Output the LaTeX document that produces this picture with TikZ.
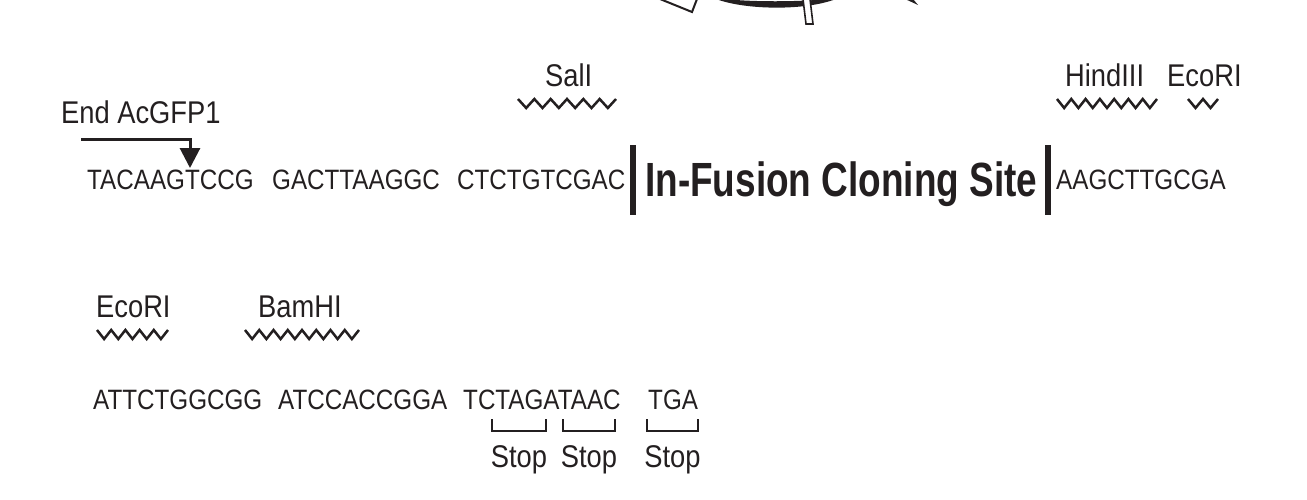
\documentclass[tikz,border=0pt]{standalone}
\usepackage{fontspec}
\usetikzlibrary{arrows.meta}
\newfontfamily\seqfont[FakeStretch=0.865]{Liberation Sans}
\newfontfamily\labfont[FakeStretch=0.87]{Liberation Sans}
\newfontfamily\boldcond[FakeStretch=0.77]{Liberation Sans}
\definecolor{ink}{RGB}{35,31,32}
\newcommand{\zzline}[4]{\draw[wave] (#1,#3) \foreach \i in {1,...,#4} { -- ({#1+\i*(#2-#1)/#4},{#3+9*mod(\i,2)}) };}
\tikzset{
  seq/.style={font=\seqfont\fontsize{28}{32}\selectfont, anchor=base west, inner sep=0pt, text=ink},
  lab/.style={font=\labfont\fontsize{31.4}{34}\selectfont, anchor=base west, inner sep=0pt, text=ink},
  stoplab/.style={font=\labfont\fontsize{31.4}{34}\selectfont, anchor=base, inner sep=0pt, text=ink},
  big/.style={font=\boldcond\bfseries\fontsize{48}{52}\selectfont, anchor=base west, inner sep=0pt, text=ink},
  wave/.style={draw=ink, line width=2.5pt, line join=miter},
  bracket/.style={draw=ink, line width=2.8pt, line cap=butt, line join=miter},
  arrowline/.style={draw=ink, line width=3pt, -{Triangle[width=20pt,length=20pt]}},
  bar/.style={fill=ink, draw=none}
}
\begin{document}
\begin{tikzpicture}[x=1pt,y=-1pt]
\useasboundingbox (0,0) rectangle (1307,499);
\clip (0,0) rectangle (1307,499);
% partial plasmid graphic at top
\draw[ink, line width=2pt, line join=miter] (660,-1) -- (692,12) -- (697,-1);
\fill[ink] (716,-1) .. controls (745,10) and (805,11) .. (836,-1) -- (826,-1) .. controls (800,2) and (750,2) .. (726,-1) -- cycle;
\filldraw[fill=white, draw=ink, line width=1.6pt] (803,-1) -- (810,-1) -- (813,24) -- (806,24) -- cycle;
\fill[ink] (905,-1) -- (913,-1) -- (918,5) -- cycle;

% row 1 labels
\node[lab] (endlab) at (61,123) {End AcGFP1};
\node[lab] (sal) at (545,86) {SalI};
\node[lab] (hind) at (1065,86) {HindIII};
\node[lab] (eco1) at (1167,86) {EcoRI};
\zzline{518}{616}{99}{12}
\zzline{1057}{1157}{99}{14}
\zzline{1188}{1218}{99}{4}

% row 1 sequence
\node[seq] (s1a) at (87,189) {TACAAGTCCG};
\node[seq] (s1b) at (272,189) {GACTTAAGGC};
\node[seq] (s1c) at (457,189) {CTCTGTCGAC};
\node[seq] (s1d) at (1056,189) {AAGCTTGCGA};
\node[big] (ifs) at (645,196) {In-Fusion Cloning Site};
\fill[bar] (630,145) rectangle (636,215);
\fill[bar] (1045,145) rectangle (1051,215);

% arrow End AcGFP1
\coordinate (arrS) at (81,139);
\coordinate (arrT) at (190,168);
\draw[arrowline] (arrS) -| (arrT);

% row 2 labels
\node[lab] (eco2) at (96,317) {EcoRI};
\node[lab] (bam) at (258,317) {BamHI};
\zzline{97}{168}{330}{10}
\zzline{245}{359}{330}{16}

% row 2 sequence
\node[seq] (s2a) at (93,409) {ATTCTGGCGG};
\node[seq] (s2b) at (278,409) {ATCCACCGGA};
\node[seq] (s2c) at (463,409) {TCTAGATAAC};
\node[seq] (s2d) at (648,409) {TGA};

% stop brackets
\draw[bracket] (492,419) |- (546,431) -- (546,419);
\draw[bracket] (563,419) |- (615,431) -- (615,419);
\draw[bracket] (647,419) |- (698,431) -- (698,419);
\node[stoplab] (stop1) at (519,467) {Stop};
\node[stoplab] (stop2) at (589,467) {Stop};
\node[stoplab] (stop3) at (672.5,467) {Stop};
\end{tikzpicture}
\end{document}
